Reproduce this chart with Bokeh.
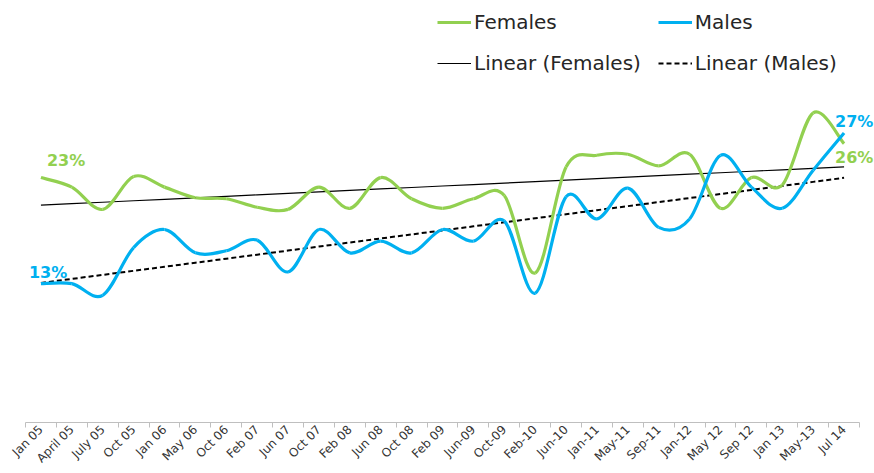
import numpy as np
from bokeh.plotting import figure
from bokeh.models import Range1d, FixedTicker, Legend, LegendItem, ColumnDataSource, Label
from bokeh.embed import file_html
from bokeh.resources import INLINE
import math

categories = ["Jan 05", "April 05", "July 05", "Oct 05", "Jan 06", "May 06", "Oct 06",
              "Feb 07", "Jun 07", "Oct 07", "Feb 08", "Jun 08", "Oct 08", "Feb 09",
              "Jun-09", "Oct-09", "Feb-10", "Jun-10", "Jan-11", "May-11", "Sep-11",
              "Jan-12", "May 12", "Sep 12", "Jan 13", "May-13", "Jul 14"]
females = [23.1, 22.2, 20.1, 23.2, 22.2, 21.2, 21.1, 20.3, 20.1, 22.2, 20.2, 23.1, 21.1,
           20.2, 21.1, 21.4, 14.1, 24.1, 25.2, 25.3, 24.2, 25.3, 20.2, 23.1, 22.4, 29.2, 26.3]
males = [13.1, 13.1, 12.0, 16.5, 18.2, 16.0, 16.2, 17.2, 14.2, 18.2, 16.0, 17.1, 16.0,
         18.2, 17.1, 19.0, 12.2, 21.3, 19.2, 22.1, 18.4, 19.2, 25.2, 22.2, 20.2, 23.8, 27.3]

GREEN = "#92D050"
BLUE = "#00B0F0"
FONT = "DejaVu Sans"

xs = np.arange(len(categories), dtype=float)
n = len(categories)


def smooth_segments(y):
    y = np.asarray(y, dtype=float)
    yp = np.concatenate([[y[0]], y, [y[-1]]])
    xp = np.concatenate([[xs[0]], xs, [xs[-1]]])
    d = {"x0": [], "y0": [], "x1": [], "y1": [], "cx0": [], "cy0": [], "cx1": [], "cy1": []}
    for i in range(len(y) - 1):
        a, b, c, e = i, i + 1, i + 2, i + 3
        d["x0"].append(xp[b]); d["y0"].append(yp[b])
        d["x1"].append(xp[c]); d["y1"].append(yp[c])
        d["cx0"].append(xp[b] + (xp[c] - xp[a]) / 6.0)
        d["cy0"].append(yp[b] + (yp[c] - yp[a]) / 6.0)
        d["cx1"].append(xp[c] - (xp[e] - xp[b]) / 6.0)
        d["cy1"].append(yp[c] - (yp[e] - yp[b]) / 6.0)
    return ColumnDataSource(d)


p = figure(width=874, height=473, output_backend="svg", toolbar_location=None,
           x_range=Range1d(-0.5, 26.985), y_range=Range1d(0, 39.8),
           min_border_left=25, min_border_right=0, min_border_top=0, min_border_bottom=51)
p.outline_line_color = None
p.xgrid.visible = False
p.ygrid.visible = False
p.yaxis.visible = False

ax = p.xaxis[0]
ax.bounds = (-0.5, n - 0.5)
ax.ticker = FixedTicker(ticks=list(xs), minor_ticks=list(np.arange(-0.5, n, 1.0)))
ax.major_label_overrides = {int(i): c for i, c in enumerate(categories)}
ax.major_label_orientation = math.pi / 4
ax.major_tick_line_color = None
ax.major_tick_out = 0
ax.major_tick_in = 0
ax.minor_tick_line_color = "#BFBFBF"
ax.minor_tick_out = 5
ax.minor_tick_in = 0
ax.axis_line_color = "#BFBFBF"
ax.major_label_text_font = FONT
ax.major_label_text_font_size = "12px"
ax.major_label_text_line_height = 1.0
ax.major_label_text_color = "#333333"
ax.major_label_standoff = 0

# trend lines (least squares, like Excel's linear trendline)
fa, fb = np.polyfit(xs, females, 1)
ma, mb = np.polyfit(xs, males, 1)
rf = p.line(xs, fa * xs + fb, line_color="black", line_width=1.2)
rm = p.line(xs, ma * xs + mb, line_color="black", line_width=2, line_dash="5 3")

gf = p.bezier("x0", "y0", "x1", "y1", "cx0", "cy0", "cx1", "cy1", source=smooth_segments(females),
              line_color=GREEN, line_width=3.2)
gm = p.bezier("x0", "y0", "x1", "y1", "cx0", "cy0", "cx1", "cy1", source=smooth_segments(males),
              line_color=BLUE, line_width=3.2)


def add_label(x, y, color, dx, dy):
    p.add_layout(Label(x=x, y=y, text=f"{round(y)}%", text_color=color, x_offset=dx, y_offset=dy,
                       text_font=FONT, text_font_style="bold", text_font_size="16px",
                       text_align="left", text_baseline="alphabetic"))


add_label(xs[0], females[0], GREEN, 6, 17.5)
add_label(xs[0], males[0], BLUE, -12, 11.5)
add_label(xs[-1], males[-1], BLUE, -9, 12)
add_label(xs[-1], females[-1], GREEN, -9, -13.5)

legend = Legend(items=[LegendItem(label="Females", renderers=[gf]),
                       LegendItem(label="Males", renderers=[gm]),
                       LegendItem(label="Linear (Females)", renderers=[rf]),
                       LegendItem(label="Linear (Males)", renderers=[rm])],
                orientation="horizontal", ncols=2, location=(412, 347),
                label_text_font=FONT, label_text_font_size="20px", label_text_color="#262626",
                glyph_width=34, label_standoff=3, spacing=17, padding=0, margin=0,
                border_line_color=None, background_fill_alpha=0)
p.add_layout(legend, "center")

open("out.html", "w").write(file_html(p, INLINE))
